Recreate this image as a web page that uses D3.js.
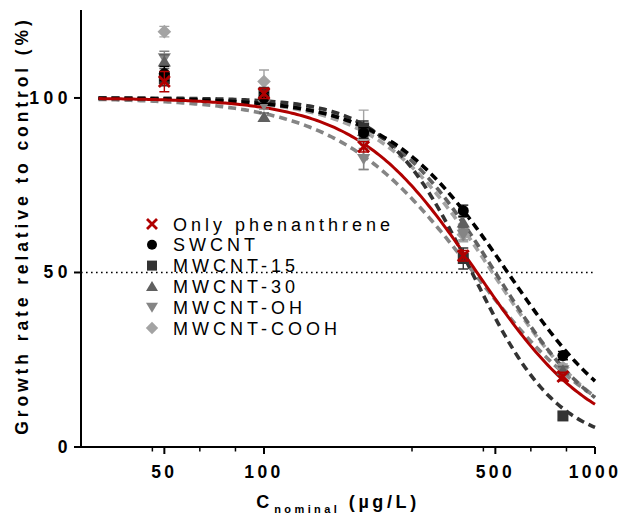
<!DOCTYPE html>
<html>
<head>
<meta charset="utf-8">
<script src="https://cdn.jsdelivr.net/npm/d3@7"></script>
<style>
  body { margin: 0; background: #fff; }
  svg { display: block; font-family: "Liberation Sans", Arial, sans-serif; }
</style>
</head>
<body>
<svg id="chart" width="622" height="516"></svg>
<script>
// concentrations (µg/L)
const conc = [50, 100, 200, 400, 800];

const seriesNames = ["Only phenanthrene", "SWCNT", "MWCNT-15", "MWCNT-30", "MWCNT-OH", "MWCNT-COOH"];
const onlyPhen  = [104.7, 101.3, 86.0, 54.8, 20.2];
const swcnt     = [107.0, 100.0, 90.0, 67.7, 26.2];
const mwcnt15   = [105.5, 101.5, 91.4, 54.0, 8.9];
const mwcnt30   = [110.4, 94.5, 90.5, 64.3, 22.0];
const mwcntOH   = [111.4, 98.0, 82.5, 60.8, 22.0];
const mwcntCOOH = [119.0, 104.7, 88.0, 60.8, 22.8];

const errPhen  = [2.9, 1.5, 1.5, 1.5, 1.2];
const errSw    = [2.0, 1.5, 1.5, 1.6, 1.2];
const err15    = [2.0, 1.5, 2.0, 3.0, 1.0];
const err30    = [2.0, 1.2, 1.5, 1.5, 1.0];
const errOH    = [2.0, 1.2, 3.0, 1.5, 1.0];
const errCOOH  = [1.5, 3.3, 8.5, 2.0, 1.0];

// fitted dose-response curves: top 100, bottom 0
const ec50 = [440, 545, 425, 500, 430, 490];
const hill = [2.4, 2.4, 3.3, 2.6, 2.1, 2.5];

const xTicks = [50, 100, 500, 1000];
const xMinor = [46, 64, 82, 280, 460, 640, 820];
const yTicks = [0, 50, 100];

const colors = ["#b00000", "#000000", "#333333", "#606060", "#858585", "#a3a3a3"];
const shapes = ["cross", "circle", "square", "triangle", "down", "diamond"];

const values = [onlyPhen, swcnt, mwcnt15, mwcnt30, mwcntOH, mwcntCOOH];
const errors = [errPhen, errSw, err15, err30, errOH, errCOOH];

const svg = d3.select("#chart");
const margin = {left: 81, top: 10, right: 27, bottom: 69};
const width = 622 - margin.left - margin.right,
      height = 516 - margin.top - margin.bottom;
const g = svg.append("g").attr("transform", "translate(" + margin.left + "," + margin.top + ")");

const x = d3.scaleLog().domain([28, 1000]).range([0, width]);
const y = d3.scaleLinear().domain([0, 125.2]).range([height, 0]);

// dotted 50% line
g.append("line")
    .attr("x1", 0).attr("x2", width)
    .attr("y1", y(50)).attr("y2", y(50))
    .attr("stroke", "#000").attr("stroke-width", 1.6)
    .attr("stroke-dasharray", "1.6,3.4");

// fitted curves
const curveX = d3.range(0, 201).map(i => Math.pow(10, 1.5 + i * 1.5 / 200));
const line = d3.line().x(d => x(d[0])).y(d => y(d[1]));
const order = [5, 4, 3, 2, 1, 0];
order.forEach(function (k) {
    const pts = curveX.map(c => [c, 100 / (1 + Math.pow(c / ec50[k], hill[k]))]);
    const path = g.append("path")
        .datum(pts)
        .attr("fill", "none")
        .attr("stroke", colors[k])
        .attr("stroke-width", k === 0 ? 3 : 3.6)
        .attr("d", line);
    if (k !== 0) path.attr("stroke-dasharray", "8,5");
});

function drawMarker(sel, shape, color, size) {
    const s = size;
    if (shape === "cross") {
        sel.append("path")
            .attr("d", "M" + (-s / 2) + "," + (-s / 2) + "L" + (s / 2) + "," + (s / 2) +
                "M" + (s / 2) + "," + (-s / 2) + "L" + (-s / 2) + "," + (s / 2))
            .attr("stroke", color).attr("stroke-width", 2.8).attr("fill", "none");
    } else if (shape === "circle") {
        sel.append("circle").attr("r", s / 2).attr("fill", color);
    } else if (shape === "square") {
        sel.append("rect").attr("x", -s / 2).attr("y", -s / 2)
            .attr("width", s).attr("height", s).attr("fill", color);
    } else if (shape === "triangle") {
        sel.append("path").attr("d", "M0," + (-s * 0.55) + "L" + (s * 0.6) + "," + (s * 0.45) +
            "L" + (-s * 0.6) + "," + (s * 0.45) + "Z").attr("fill", color);
    } else if (shape === "down") {
        sel.append("path").attr("d", "M0," + (s * 0.55) + "L" + (s * 0.6) + "," + (-s * 0.45) +
            "L" + (-s * 0.6) + "," + (-s * 0.45) + "Z").attr("fill", color);
    } else if (shape === "diamond") {
        sel.append("path").attr("d", "M0," + (-s * 0.62) + "L" + (s * 0.62) + ",0L0," +
            (s * 0.62) + "L" + (-s * 0.62) + ",0Z").attr("fill", color);
    }
}

// error bars and points
order.forEach(function (k) {
    const grp = g.append("g");
    conc.forEach(function (c, i) {
        const cx = x(c), v = values[k][i], e = errors[k][i];
        grp.append("path")
            .attr("d", "M" + cx + "," + y(v - e) + "V" + y(v + e) +
                "M" + (cx - 5) + "," + y(v + e) + "H" + (cx + 5) +
                "M" + (cx - 5) + "," + y(v - e) + "H" + (cx + 5))
            .attr("stroke", colors[k]).attr("stroke-width", 1.4).attr("fill", "none");
        const m = grp.append("g").attr("transform", "translate(" + cx + "," + y(v) + ")");
        drawMarker(m, shapes[k], colors[k], 11);
    });
});

// axes
const xAxis = g.append("g").attr("transform", "translate(0," + height + ")");
xAxis.append("line").attr("x1", 0).attr("x2", width).attr("stroke", "#000").attr("stroke-width", 2);
xAxis.selectAll(".major").data(xTicks).enter().append("line")
    .attr("x1", d => x(d)).attr("x2", d => x(d))
    .attr("y1", 0).attr("y2", 7).attr("stroke", "#000").attr("stroke-width", 2);
xAxis.selectAll(".minor").data(xMinor).enter().append("line")
    .attr("x1", d => x(d)).attr("x2", d => x(d))
    .attr("y1", 0).attr("y2", 4.5).attr("stroke", "#000").attr("stroke-width", 1.5);
xAxis.selectAll(".lbl").data(xTicks).enter().append("text")
    .attr("x", d => x(d)).attr("y", 31)
    .attr("text-anchor", "middle")
    .attr("font-size", 17.5).attr("font-weight", "bold")
    .attr("letter-spacing", 3.4)
    .text(d => d);

const yAxis = g.append("g");
yAxis.append("line").attr("y1", 0).attr("y2", height).attr("stroke", "#000").attr("stroke-width", 2);
yAxis.selectAll(".tick").data(yTicks).enter().append("line")
    .attr("x1", -7).attr("x2", 0)
    .attr("y1", d => y(d)).attr("y2", d => y(d))
    .attr("stroke", "#000").attr("stroke-width", 2);
yAxis.selectAll(".lbl").data(yTicks).enter().append("text")
    .attr("x", -9).attr("y", d => y(d) + 6)
    .attr("text-anchor", "end")
    .attr("font-size", 17.5).attr("font-weight", "bold")
    .attr("letter-spacing", 4.5)
    .text(d => d);

// axis titles
svg.append("text")
    .attr("transform", "translate(28," + (margin.top + height / 2 - 3) + ") rotate(-90)")
    .attr("text-anchor", "middle")
    .attr("font-size", 17.5).attr("font-weight", "bold")
    .attr("letter-spacing", 3.9)
    .text("Growth rate relative to control (%)");

const xt = svg.append("text")
    .attr("x", margin.left + width / 2).attr("y", 508)
    .attr("text-anchor", "middle")
    .attr("font-weight", "bold");
xt.append("tspan").attr("font-size", 18).attr("letter-spacing", 5).text("C");
xt.append("tspan").attr("font-size", 11).attr("letter-spacing", 3.4).attr("dy", 5).text("nominal");
xt.append("tspan").attr("font-size", 18).attr("letter-spacing", 3.6).attr("dy", -5).text(" (µg/L)");

// legend
const legend = svg.append("g").attr("transform", "translate(152,224)");
seriesNames.forEach(function (name, k) {
    const row = legend.append("g").attr("transform", "translate(0," + (k * 20.8) + ")");
    drawMarker(row, shapes[k], colors[k], 10);
    row.append("text")
        .attr("x", 21).attr("y", 6.5)
        .attr("font-size", 18)
        .attr("letter-spacing", 4)
        .text(name);
});
</script>
</body>
</html>
